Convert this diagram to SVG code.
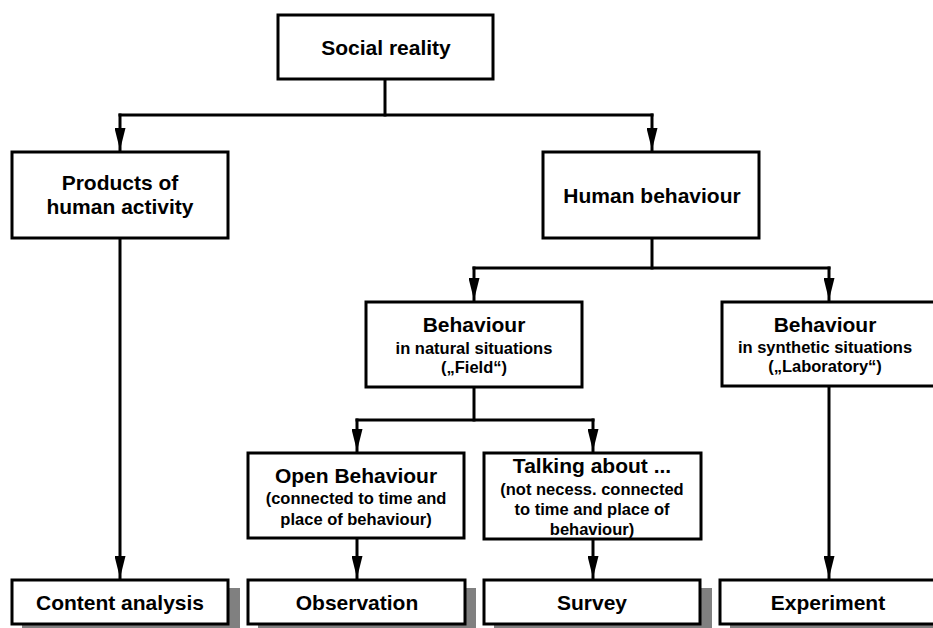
<svg xmlns="http://www.w3.org/2000/svg" width="933" height="628" viewBox="0 0 933 628">
<style>
.box{fill:#fff;stroke:#000;stroke-width:3}
.sh{fill:#808080}
.c{fill:none;stroke:#000;stroke-width:3;stroke-linecap:square}
.a{marker-end:url(#ah)}
text{font-family:"Liberation Sans",Arial,sans-serif;font-weight:bold;fill:#000;text-anchor:middle}
.b{font-size:21px}
.s{font-size:16.5px}
</style>
<defs>
<marker id="ah" markerUnits="userSpaceOnUse" markerWidth="22" markerHeight="11" refX="22" refY="5.5" orient="auto">
<path d="M0,0 L22,5.5 L0,11 z" fill="#000"/>
</marker>
</defs>
<rect width="933" height="628" fill="#fff"/>
<g id="shadows">
<rect class="sh" x="22" y="588" width="218" height="46"/>
<rect class="sh" x="258" y="588" width="218" height="46"/>
<rect class="sh" x="494" y="588" width="218" height="46"/>
<rect class="sh" x="730" y="588" width="218" height="46"/>
</g>
<g id="connectors">
<path class="c" d="M385,79 V115"/>
<path class="c" d="M120,115 H652"/>
<path class="c a" d="M120,115 V150"/>
<path class="c a" d="M652,115 V150"/>
<path class="c" d="M652,238 V268"/>
<path class="c" d="M474,268 H829"/>
<path class="c a" d="M474,268 V300"/>
<path class="c a" d="M829,268 V300"/>
<path class="c" d="M474,387 V420"/>
<path class="c" d="M357,420 H593"/>
<path class="c a" d="M357,420 V451"/>
<path class="c a" d="M593,420 V451"/>
<path class="c a" d="M120,238 V578"/>
<path class="c a" d="M357,538 V578"/>
<path class="c a" d="M593,539 V578"/>
<path class="c a" d="M829,386 V578"/>
</g>
<g id="social">
<rect class="box" x="278" y="15" width="215" height="64"/>
<text class="b" x="386" y="55">Social reality</text>
</g>
<g id="products">
<rect class="box" x="12" y="152" width="216" height="86"/>
<text class="b" x="120" y="190">Products of</text>
<text class="b" x="120" y="214">human activity</text>
</g>
<g id="human">
<rect class="box" x="543" y="152" width="216" height="86"/>
<text class="b" x="652" y="203">Human behaviour</text>
</g>
<g id="field">
<rect class="box" x="366" y="302" width="216" height="85"/>
<text class="b" x="474" y="332">Behaviour</text>
<text class="s" x="474" y="354">in natural situations</text>
<text class="s" x="474" y="373">(„Field“)</text>
</g>
<g id="lab">
<rect class="box" x="722" y="302" width="216" height="84"/>
<text class="b" x="825" y="332">Behaviour</text>
<text class="s" x="825" y="353">in synthetic situations</text>
<text class="s" x="825" y="372">(„Laboratory“)</text>
</g>
<g id="open">
<rect class="box" x="248" y="453" width="216" height="85"/>
<text class="b" x="356" y="483">Open Behaviour</text>
<text class="s" x="356" y="504">(connected to time and</text>
<text class="s" x="356" y="525">place of behaviour)</text>
</g>
<g id="talking">
<rect class="box" x="484" y="453" width="217" height="86"/>
<text class="b" x="592" y="473">Talking about ...</text>
<text class="s" x="592" y="495">(not necess. connected</text>
<text class="s" x="592" y="515">to time and place of</text>
<text class="s" x="592" y="535">behaviour)</text>
</g>
<g id="content">
<rect class="box" x="12" y="580" width="216" height="44"/>
<text class="b" x="120" y="610">Content analysis</text>
</g>
<g id="observation">
<rect class="box" x="248" y="580" width="217" height="44"/>
<text class="b" x="357" y="610">Observation</text>
</g>
<g id="survey">
<rect class="box" x="484" y="580" width="216" height="44"/>
<text class="b" x="592" y="610">Survey</text>
</g>
<g id="experiment">
<rect class="box" x="720" y="580" width="216" height="44"/>
<text class="b" x="828" y="610">Experiment</text>
</g>
</svg>
